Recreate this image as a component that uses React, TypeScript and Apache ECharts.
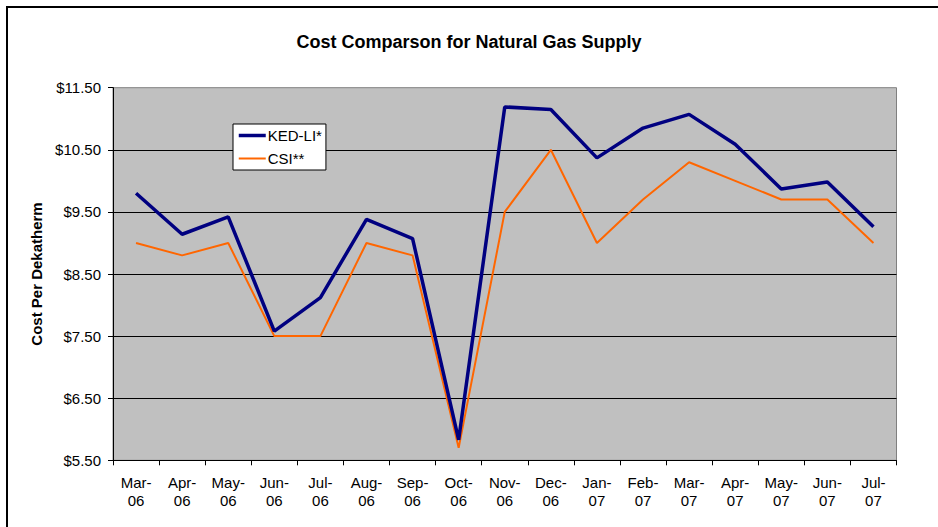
import React, { useEffect, useRef } from "react";
import * as echarts from "echarts";

const categories = [
  "Mar-\n06", "Apr-\n06", "May-\n06", "Jun-\n06", "Jul-\n06", "Aug-\n06", "Sep-\n06", "Oct-\n06",
  "Nov-\n06", "Dec-\n06", "Jan-\n07", "Feb-\n07", "Mar-\n07", "Apr-\n07", "May-\n07", "Jun-\n07", "Jul-\n07",
];
const kedLi = [9.8, 9.14, 9.42, 7.58, 8.12, 9.38, 9.07, 5.83, 11.19, 11.15, 10.37, 10.85, 11.07, 10.59, 9.87, 9.98, 9.26];
const csi = [9.0, 8.8, 9.0, 7.5, 7.5, 9.0, 8.8, 5.7, 9.5, 10.5, 9.0, 9.7, 10.3, 10.0, 9.7, 9.7, 9.0];
const seriesNames = ["KED-LI*", "CSI**"];
const titleText = "Cost Comparson for Natural Gas Supply";
const yAxisName = "Cost Per Dekatherm";

const FONT = "'Liberation Sans', Arial, sans-serif";

export default function App() {
  const ref = useRef<HTMLDivElement>(null);
  useEffect(() => {
    if (!ref.current) return;
    const chart = echarts.init(ref.current, null, { renderer: "svg" });
    chart.setOption({
      animation: false,
      backgroundColor: "#ffffff",
      textStyle: { fontFamily: FONT },
      title: {
        text: titleText,
        left: "center",
        top: 28,
        textStyle: { fontFamily: FONT, fontSize: 18, fontWeight: "bold", color: "#000" },
      },
      graphic: [
        {
          type: "rect",
          shape: { x: 7, y: 7, width: 1000, height: 600 },
          style: { fill: "none", stroke: "#000", lineWidth: 2 },
          silent: true,
          z: 100,
        },
      ],
      legend: {
        left: 233,
        top: 124,
        orient: "vertical",
        backgroundColor: "#ffffff",
        borderColor: "#000",
        borderWidth: 1,
        borderRadius: 0,
        padding: [4, 4, 4, 4],
        itemWidth: 27,
        itemHeight: 14,
        itemGap: 8,
        itemStyle: { opacity: 0 },
        textStyle: { fontFamily: FONT, fontSize: 15, color: "#000", padding: [0, 0, 0, -3] },
        data: [
          { name: seriesNames[0], lineStyle: { width: 3.5, color: "#000080" } },
          { name: seriesNames[1], lineStyle: { width: 2, color: "#FF6600" } },
        ],
      },
      grid: {
        left: 113,
        right: 41.5,
        top: 87.7,
        bottom: 66.7,
        show: true,
        backgroundColor: "#C0C0C0",
        borderColor: "#808080",
        borderWidth: 1,
      },
      xAxis: {
        type: "category",
        data: categories,
        boundaryGap: true,
        axisLine: { lineStyle: { color: "#000", width: 1 } },
        axisTick: { show: true, length: 5, lineStyle: { color: "#000" } },
        axisLabel: {
          interval: 0,
          margin: 13,
          fontFamily: FONT,
          fontSize: 15,
          lineHeight: 18,
          color: "#000",
        },
      },
      yAxis: {
        type: "value",
        min: 5.5,
        max: 11.5,
        interval: 1,
        name: yAxisName,
        nameLocation: "middle",
        nameGap: 68,
        nameRotate: 90,
        nameTextStyle: { fontFamily: FONT, fontSize: 15, fontWeight: "bold", color: "#000" },
        axisLine: { show: true, lineStyle: { color: "#000", width: 1 } },
        axisTick: { show: true, length: 5, lineStyle: { color: "#000" } },
        axisLabel: {
          margin: 12,
          fontFamily: FONT,
          fontSize: 15,
          color: "#000",
          formatter: (v: number) => "$" + v.toFixed(2),
        },
        splitLine: { show: true, showMaxLine: false, showMinLine: false, lineStyle: { color: "#000", width: 1 } },
      },
      series: [
        {
          name: seriesNames[0],
          type: "line",
          data: kedLi,
          symbol: "none",
          lineStyle: { color: "#000080", width: 3.5 },
          itemStyle: { color: "#000080" },
          z: 3,
        },
        {
          name: seriesNames[1],
          type: "line",
          data: csi,
          symbol: "none",
          lineStyle: { color: "#FF6600", width: 2 },
          itemStyle: { color: "#FF6600" },
          z: 2,
        },
      ],
    });
    return () => chart.dispose();
  }, []);
  return (
    <div
      ref={ref}
      style={{ position: "absolute", left: 0, top: 0, width: 938, height: 527 }}
    />
  );
}
